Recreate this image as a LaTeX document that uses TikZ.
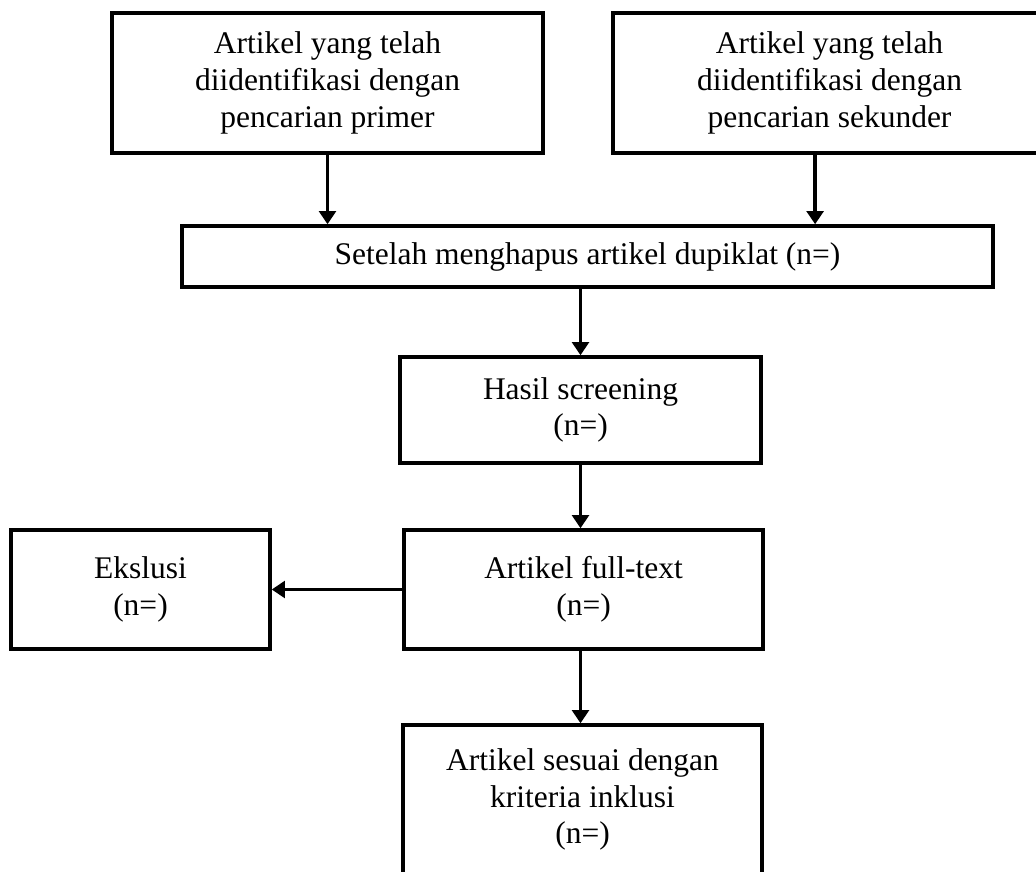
\documentclass[tikz,border=0pt]{standalone}
\usepackage{fontspec}
\setmainfont{Liberation Serif}
\usepackage{tikz}
\usetikzlibrary{arrows.meta, positioning}
\tikzset{
    block/.style={rectangle, draw, line width=2.5pt, fill=white, align=center, inner sep=0pt, font=\fontsize{22.4}{26.2}\selectfont},
    arrow/.style={line width=2.5pt, -{Triangle[length=0.33cm, width=0.42cm]}}
}
\begin{document}
\begin{tikzpicture}
        \useasboundingbox (0,0) rectangle (25.9,-21.8);
        \clip (0,0) rectangle (25.9,-21.8);

        % Identification
        \node (prim) [block, minimum width=10.775cm, minimum height=3.5cm] at (8.1875,-2.075) {Artikel yang telah\\ diidentifikasi dengan\\ pencarian primer};
        \node (sek) [block, minimum width=10.825cm, minimum height=3.5cm] at (20.7375,-2.075) {Artikel yang telah\\ diidentifikasi dengan\\ pencarian sekunder};

        % Duplicates removed
        \node (dup) [block, minimum width=20.275cm, minimum height=1.525cm] at (14.6875,-6.4125) {Setelah menghapus artikel dupiklat (n=)};

        % Screening
        \node (scr) [block, minimum width=9.025cm, minimum height=2.65cm] at (14.5125,-10.25) {Hasil screening\\ (n=)};

        % Full text and exclusion
        \node (full) [block, minimum width=8.975cm, minimum height=2.975cm] at (14.5875,-14.7375) {Artikel full-text\\ (n=)};
        \node (eks) [block, minimum width=6.475cm, minimum height=2.975cm] at (3.5125,-14.7375) {Ekslusi\\ (n=)};

        % Included
        \node (inkl) [block, minimum width=8.975cm, minimum height=3.725cm] at (14.5625,-19.9875) {Artikel sesuai dengan\\ kriteria inklusi\\ (n=)};

        % Flow arrows
        \draw[arrow] (prim.south) -- (prim.south |- dup.north);
        \draw[arrow] ([xshift=-0.36cm]sek.south) -- ([xshift=-0.36cm]sek.south |- dup.north);
        \draw[arrow] (scr.north |- dup.south) -- (scr.north);
        \draw[arrow] (scr.south) -- (scr.south |- full.north);
        \draw[arrow] (full.west) -- (eks.east);
        \draw[arrow] (scr.south |- full.south) -- (scr.south |- inkl.north);
    \end{tikzpicture}
\end{document}
